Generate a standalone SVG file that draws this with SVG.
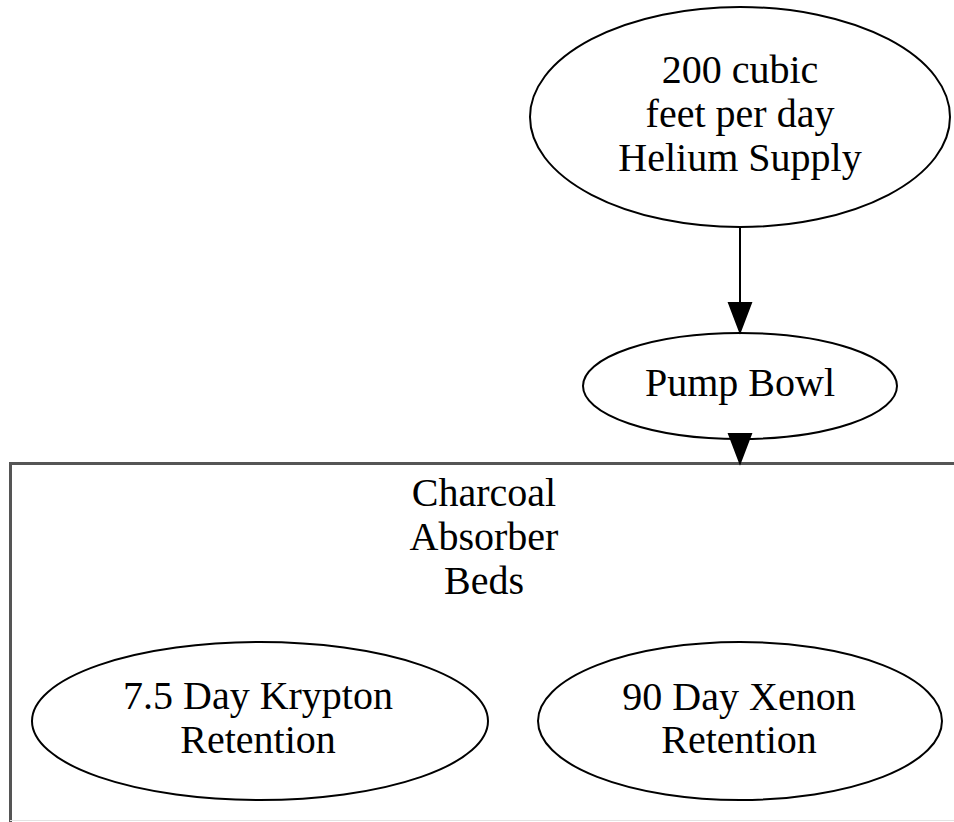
<svg xmlns="http://www.w3.org/2000/svg" width="954" height="822" viewBox="0 0 954 822">
  <style>
    .node ellipse { fill: #ffffff; stroke: #000000; stroke-width: 2; }
    .node text, .cluster text { font-family: "Liberation Serif", "Times New Roman", serif; font-size: 40px; fill: #000000; text-anchor: middle; }
    .edge line { stroke: #000000; stroke-width: 2; }
    .edge polygon { fill: #000000; stroke: #000000; stroke-width: 2; }
    .cluster path { fill: none; stroke: #555555; stroke-width: 3; }
  </style>
  <rect width="954" height="822" fill="#ffffff"/>

  <!-- Charcoal absorber beds cluster (extends past the right and bottom edges) -->
  <g id="cluster_beds" class="cluster">
    <path d="M10.5,822 V463.5 H960"/>
    <line x1="10" y1="820.5" x2="954" y2="820.5" stroke="#e2e2e2" stroke-width="1"/>
    <text x="484" y="506">Charcoal</text>
    <text x="484" y="550">Absorber</text>
    <text x="484" y="594">Beds</text>
  </g>

  <!-- Nodes -->
  <g id="helium_supply" class="node">
    <ellipse cx="740" cy="117" rx="210" ry="110"/>
    <text x="740" y="83">200 cubic</text>
    <text x="740" y="127">feet per day</text>
    <text x="740" y="171">Helium Supply</text>
  </g>

  <g id="pump_bowl" class="node">
    <ellipse cx="740" cy="386" rx="157" ry="53"/>
    <text x="740" y="396">Pump Bowl</text>
  </g>

  <g id="krypton_bed" class="node">
    <ellipse cx="260" cy="721" rx="228" ry="79"/>
    <text x="258" y="709">7.5 Day Krypton</text>
    <text x="258" y="753">Retention</text>
  </g>

  <g id="xenon_bed" class="node">
    <ellipse cx="740" cy="721" rx="202" ry="79"/>
    <text x="739" y="710">90 Day Xenon</text>
    <text x="739" y="753">Retention</text>
  </g>

  <!-- Connectors -->
  <g id="edges">
    <g class="edge" id="supply_to_pump">
      <line x1="740" y1="227" x2="740" y2="303"/>
      <polygon points="729,303 751,303 740,332"/>
    </g>
    <g class="edge" id="pump_to_beds">
      <polygon points="729,434 751,434 740,463"/>
    </g>
  </g>
</svg>
